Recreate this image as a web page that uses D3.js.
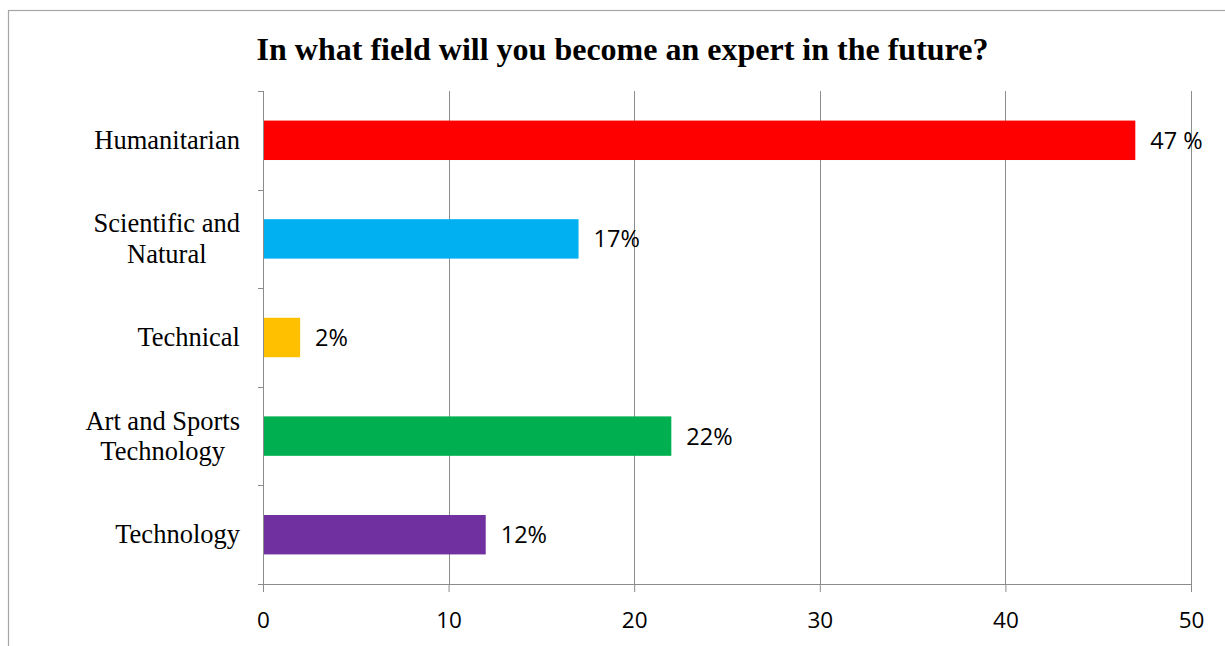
<!DOCTYPE html>
<html>
<head>
<meta charset="utf-8">
<script src="https://cdn.jsdelivr.net/npm/d3@7"></script>
<style>
  html, body { margin: 0; padding: 0; background: #fff; }
  svg { display: block; }
</style>
</head>
<body>
<svg id="chart" width="1225" height="646"></svg>
<script>
// Survey answers: share of respondents per field
const categories = [
  ["Humanitarian"],
  ["Scientific and", "Natural"],
  ["Technical"],
  ["Art and Sports", "Technology"],
  ["Technology"]
];
const values = [47, 17, 2, 22, 12];
const valueLabels = ["47 %", "17%", "2%", "22%", "12%"];
const barColors = ["#FF0000", "#00B0F0", "#FFC000", "#00B050", "#7030A0"];
const xTicks = [0, 10, 20, 30, 40, 50];
const title = "In what field will you become an expert in the future?";

const svg = d3.select("#chart");
const W = 1225, H = 646;
const margin = { left: 263, right: 34, top: 91, bottom: 62 };
const plotW = W - margin.left - margin.right;
const plotH = H - margin.top - margin.bottom;

const sansFont = "'Open Sans', 'Noto Sans', sans-serif";
const serifFont = "'Liberation Serif', 'Times New Roman', serif";
const axisColor = "#8c8c8c";

// Outer chart frame
svg.append("rect")
  .attr("x", 8.5).attr("y", 10.5)
  .attr("width", 1400).attr("height", 800)
  .attr("fill", "none").attr("stroke", "#a6a6a6").attr("stroke-width", 1.2);

// Title
svg.append("text")
  .attr("x", 622.5).attr("y", 60)
  .attr("text-anchor", "middle")
  .attr("font-family", serifFont)
  .attr("font-weight", "bold")
  .attr("font-size", 32)
  .attr("fill", "#000")
  .text(title);

const g = svg.append("g").attr("transform", `translate(${margin.left},${margin.top})`);

const x = d3.scaleLinear().domain([0, 50]).range([0, plotW]);
const y = d3.scaleBand().domain(d3.range(values.length)).range([0, plotH]).paddingInner(0.6).paddingOuter(0.3);

// Vertical gridlines
g.append("g")
  .selectAll("line")
  .data(xTicks.filter(t => t > 0))
  .join("line")
  .attr("x1", d => Math.round(x(d)) + 0.5).attr("x2", d => Math.round(x(d)) + 0.5)
  .attr("y1", 0).attr("y2", plotH)
  .attr("stroke", axisColor).attr("stroke-width", 1);

// Bars
g.append("g")
  .selectAll("rect")
  .data(values)
  .join("rect")
  .attr("x", x(0))
  .attr("y", (d, i) => y(i))
  .attr("width", d => x(d) - x(0))
  .attr("height", y.bandwidth())
  .attr("fill", (d, i) => barColors[i]);

// Value labels
g.append("g")
  .selectAll("text")
  .data(values)
  .join("text")
  .attr("x", d => x(d) + 15)
  .attr("y", (d, i) => y(i) + y.bandwidth() / 2)
  .attr("dy", "0.36em")
  .attr("font-family", sansFont)
  .attr("font-size", 23.5)
  .attr("fill", "#000")
  .text((d, i) => valueLabels[i]);

// X axis
const xAxis = g.append("g")
  .attr("transform", `translate(0,${plotH})`)
  .call(d3.axisBottom(x).tickValues(xTicks).tickSize(8).tickPadding(20).tickSizeOuter(0));
xAxis.select(".domain").attr("stroke", axisColor).attr("d", `M-5,0.5H${plotW}`);
xAxis.selectAll(".tick line").attr("stroke", axisColor);
xAxis.selectAll(".tick text")
  .attr("font-family", sansFont)
  .attr("font-size", 22.5)
  .attr("fill", "#000");

// Y axis line with category boundary ticks
const bandStep = plotH / values.length;
const yAxis = g.append("g");
yAxis.append("line")
  .attr("x1", 0.5).attr("x2", 0.5).attr("y1", 0).attr("y2", plotH)
  .attr("stroke", axisColor);
yAxis.selectAll("line.tk")
  .data(d3.range(values.length + 1))
  .join("line")
  .attr("class", "tk")
  .attr("x1", -5).attr("x2", 0.5)
  .attr("y1", d => Math.round(d * bandStep) + 0.5)
  .attr("y2", d => Math.round(d * bandStep) + 0.5)
  .attr("stroke", axisColor);

// Category labels: block right-aligned, lines centred within the block
const lineH = 30.5;
const labelRight = -23;
categories.forEach((lines, i) => {
  const cy = y(i) + y.bandwidth() / 2;
  const grp = g.append("g");
  const texts = lines.map((ln, j) => grp.append("text")
    .attr("y", cy + (j - (lines.length - 1) / 2) * lineH)
    .attr("dy", "0.33em")
    .attr("font-family", serifFont)
    .attr("font-size", 26.5)
    .attr("fill", "#000")
    .attr("text-anchor", "middle")
    .text(ln));
  const maxW = d3.max(texts, t => t.node().getComputedTextLength());
  texts.forEach(t => t.attr("x", labelRight - maxW / 2));
});
</script>
</body>
</html>
